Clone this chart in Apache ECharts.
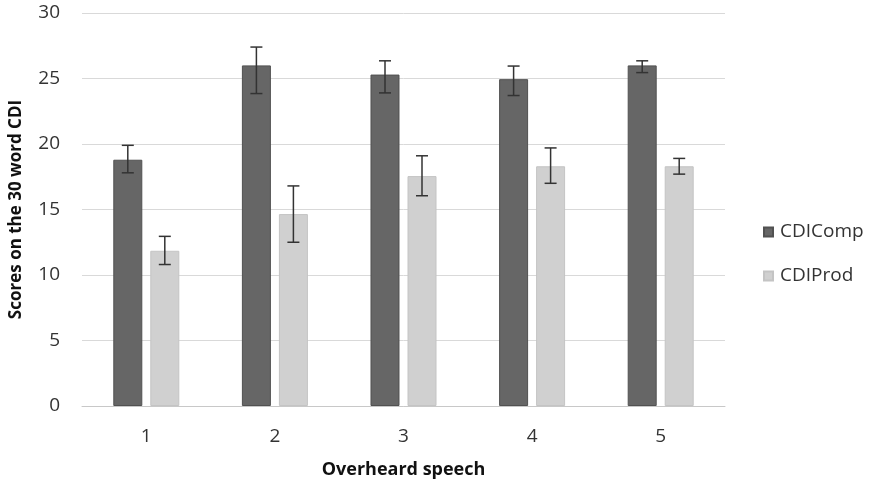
<!DOCTYPE html>
<html>
<head>
<meta charset="utf-8">
<script src="https://cdn.jsdelivr.net/npm/echarts@6/dist/echarts.min.js"></script>
<style>
  html, body { margin: 0; padding: 0; background: #fff; }
  #chart { width: 869px; height: 484px; }
</style>
</head>
<body>
<div id="chart"></div>
<script>
// Overheard speech levels
const categories = ['1', '2', '3', '4', '5'];

// Mean scores
const compValues = [18.8, 26.0, 25.3, 24.95, 26.0];
const prodValues = [11.85, 14.65, 17.55, 18.3, 18.3];

// Error bar ends (low / high)
const compLow  = [17.8, 23.85, 23.9, 23.7, 25.45];
const compHigh = [19.9, 27.4, 26.35, 25.95, 26.35];
const prodLow  = [10.8, 12.5, 16.05, 17.0, 17.7];
const prodHigh = [12.95, 16.8, 19.1, 19.7, 18.9];

const yTicks = [0, 5, 10, 15, 20, 25, 30];

const FONT = '"Open Sans", "Noto Sans", sans-serif';
const BAR_W = 29;
const GAP = 8;
const OFFSET = (BAR_W + GAP) / 2;

function errorSeries(name, low, high, side) {
  return {
    name: name,
    type: 'custom',
    z: 10,
    silent: true,
    data: categories.map((c, i) => [i, low[i], high[i]]),
    encode: { x: 0, y: [1, 2] },
    renderItem: function (params, api) {
      const x = api.coord([api.value(0), 0])[0] + side * OFFSET;
      const yLo = api.coord([api.value(0), api.value(1)])[1];
      const yHi = api.coord([api.value(0), api.value(2)])[1];
      const cap = 6;
      const style = { stroke: '#333333', lineWidth: 1.5, fill: null };
      return {
        type: 'group',
        children: [
          { type: 'line', shape: { x1: x, y1: yLo, x2: x, y2: yHi }, style: style },
          { type: 'line', shape: { x1: x - cap, y1: yHi, x2: x + cap, y2: yHi }, style: style },
          { type: 'line', shape: { x1: x - cap, y1: yLo, x2: x + cap, y2: yLo }, style: style }
        ]
      };
    }
  };
}

const chart = echarts.init(document.getElementById('chart'));
chart.setOption({
  animation: false,
  backgroundColor: '#ffffff',
  textStyle: { fontFamily: FONT },
  grid: { left: 80, right: 144, top: 13, bottom: 78, containLabel: false },
  legend: {
    orient: 'vertical',
    left: 758,
    top: 216,
    itemWidth: 9,
    itemHeight: 9,
    itemGap: 22,
    icon: 'rect',
    data: ['CDIComp', 'CDIProd'],
    textStyle: { fontFamily: FONT, fontSize: 19, color: '#333333', lineHeight: 22, padding: [0, 0, 0, 2] }
  },
  xAxis: {
    type: 'category',
    data: categories,
    name: 'Overheard speech',
    nameLocation: 'middle',
    nameGap: 55,
    nameTextStyle: { fontFamily: FONT, fontSize: 18, fontWeight: 'bold', color: '#111' },
    axisLine: { lineStyle: { color: '#c8c8c8', width: 1 } },
    axisTick: { show: false },
    axisLabel: { fontFamily: FONT, fontSize: 19, color: '#333333', margin: 21 }
  },
  yAxis: {
    type: 'value',
    min: yTicks[0],
    max: yTicks[yTicks.length - 1],
    interval: 5,
    name: 'Scores on the 30 word CDI',
    nameLocation: 'middle',
    nameGap: 57,
    nameTextStyle: { fontFamily: FONT, fontSize: 17, fontWeight: 'bold', color: '#111' },
    axisLine: { show: false },
    axisTick: { show: false },
    axisLabel: { fontFamily: FONT, fontSize: 19, color: '#333333', margin: 22 },
    splitLine: { lineStyle: { color: '#d9d9d9', width: 1 } }
  },
  series: [
    {
      name: 'CDIComp',
      type: 'bar',
      data: compValues,
      barWidth: BAR_W,
      barGap: (GAP / BAR_W * 100).toFixed(1) + '%',
      itemStyle: { color: '#666666', borderColor: '#515151', borderWidth: 1 }
    },
    {
      name: 'CDIProd',
      type: 'bar',
      data: prodValues,
      barWidth: BAR_W,
      itemStyle: { color: '#d0d0d0', borderColor: '#c4c4c4', borderWidth: 1 }
    },
    errorSeries('compErr', compLow, compHigh, -1),
    errorSeries('prodErr', prodLow, prodHigh, 1)
  ]
});
</script>
</body>
</html>
